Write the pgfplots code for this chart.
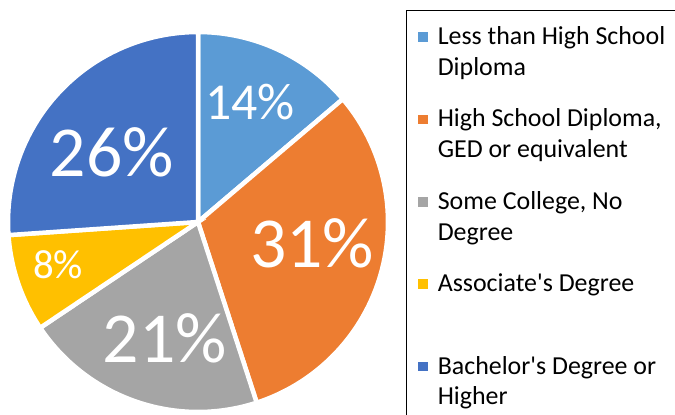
\documentclass[border=0pt]{standalone}
\usepackage{pgfplots}
\pgfplotsset{compat=1.18}
\usepackage{fontspec}
\setmainfont{Carlito}[Ligatures=TeXOff]
\definecolor{c1}{HTML}{5B9BD5}
\definecolor{c2}{HTML}{ED7D31}
\definecolor{c3}{HTML}{A5A5A5}
\definecolor{c4}{HTML}{FFC000}
\definecolor{c5}{HTML}{4472C4}
% slice values (percent)
\def\va{13.8}
\def\vb{31.2}
\def\vc{20.6}
\def\vd{8.3}
\def\ve{26.1}
\pgfmathsetmacro\aA{90}
\pgfmathsetmacro\aB{\aA-3.6*\va}
\pgfmathsetmacro\aC{\aB-3.6*\vb}
\pgfmathsetmacro\aD{\aC-3.6*\vc}
\pgfmathsetmacro\aE{\aD-3.6*\vd}
\pgfmathsetmacro\aF{\aE-3.6*\ve}
\begin{document}
\begin{tikzpicture}
\begin{axis}[at={(8bp,3bp)}, anchor=south west,
  width=380bp, height=380bp, scale only axis,
  xmin=-1, xmax=1, ymin=-1, ymax=1, hide axis, clip=false,
  legend style={at={(1.05,1.05605)}, anchor=north west, draw=none,
    inner xsep=11bp, inner ysep=11.9bp,
    row sep=59.3bp, column sep=10bp, nodes={inner sep=0pt},
    font=\fontsize{26}{31}\selectfont},
  legend cell align=left,
  legend style={cells={anchor=base west}},
  legend image code/.code={\fill[#1, draw=none] (0bp,2.6bp) rectangle (9.6bp,12.2bp);},
]
\addplot[fill=c1, draw=white, line width=4.5bp, domain=\aB:\aA, samples=40] ({cos(x)},{sin(x)}) -- (axis cs:0,0) -- cycle;
\addlegendentry{\parbox[t]{235bp}{\strut Less than High School\\\strut Diploma}}
\addplot[fill=c2, draw=white, line width=4.5bp, domain=\aC:\aB, samples=60] ({cos(x)},{sin(x)}) -- (axis cs:0,0) -- cycle;
\addlegendentry{\parbox[t]{235bp}{\strut High School Diploma,\\\strut GED or equivalent}}
\addplot[fill=c3, draw=white, line width=4.5bp, domain=\aD:\aC, samples=50] ({cos(x)},{sin(x)}) -- (axis cs:0,0) -- cycle;
\addlegendentry{\parbox[t]{235bp}{\strut Some College, No\\\strut Degree}}
\addplot[fill=c4, draw=white, line width=4.5bp, domain=\aE:\aD, samples=20] ({cos(x)},{sin(x)}) -- (axis cs:0,0) -- cycle;
\addlegendentry{\parbox[t]{235bp}{\strut Associate's Degree\\\strut}}
\addplot[fill=c5, draw=white, line width=4.5bp, domain=\aF:\aE, samples=50] ({cos(x)},{sin(x)}) -- (axis cs:0,0) -- cycle;
\addlegendentry{\parbox[t]{235bp}{\strut Bachelor's Degree or\\\strut Higher}}
\node[white, inner sep=0pt, font=\fontsize{52}{52}\selectfont] at (axis cs:0.274,0.632) {14\%};
\node[white, inner sep=0pt, font=\fontsize{72}{72}\selectfont] at (axis cs:-0.453,0.368) {26\%};
\node[white, inner sep=0pt, font=\fontsize{72}{72}\selectfont] at (axis cs:0.6,-0.111) {31\%};
\node[white, inner sep=0pt, font=\fontsize{72}{72}\selectfont] at (axis cs:-0.174,-0.611) {21\%};
\node[white, inner sep=0pt, font=\fontsize{41}{41}\selectfont] at (axis cs:-0.737,-0.226) {8\%};
\end{axis}
\draw[line width=1.3bp, black] (406.7bp,-20bp) rectangle (700bp,404.3bp);
\pgfresetboundingbox
\path (0,0) rectangle (675bp,415bp);
\end{tikzpicture}
\end{document}
